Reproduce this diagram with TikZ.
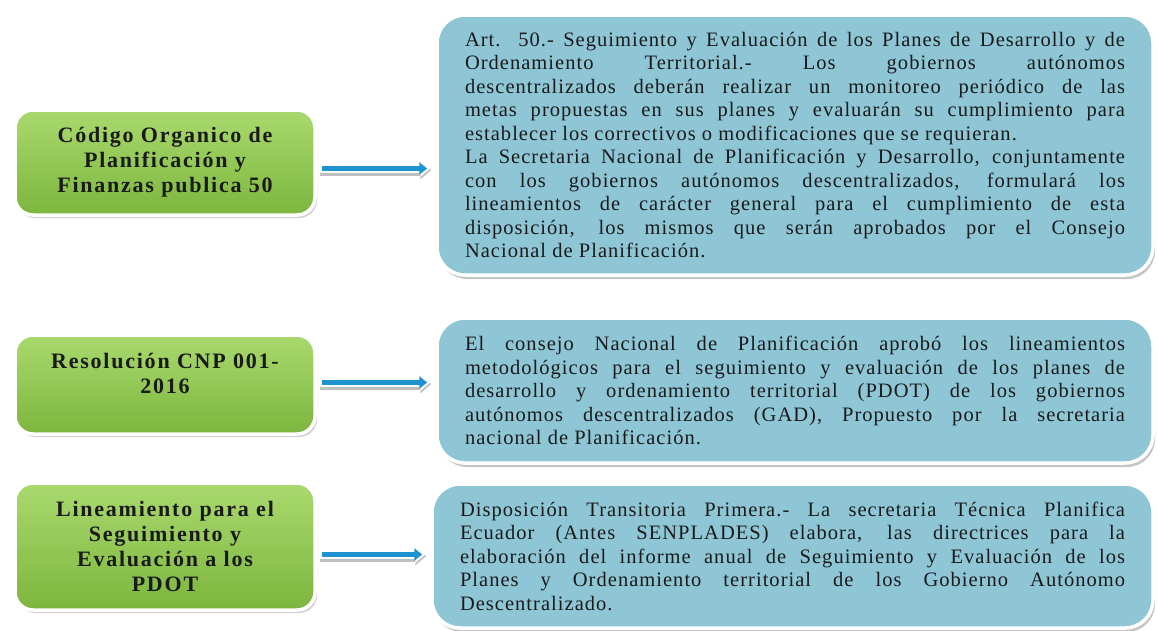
\documentclass[tikz,border=0pt]{standalone}
\usepackage{fontspec}
\setmainfont{Liberation Serif}
\usetikzlibrary{arrows.meta, positioning, shadows}
\definecolor{tagGreenTop}{HTML}{A9D96E}
\definecolor{tagGreenBot}{HTML}{7DB63E}
\definecolor{noteBlue}{HTML}{8EC6D6}
\definecolor{linkBlue}{HTML}{1E93D0}
\definecolor{noteText}{HTML}{1A1A1A}

\begin{document}
\begin{tikzpicture}[x=1pt, y=-1pt,
    tag/.style={draw=white, line width=3.5pt, rounded corners=18pt, top color=tagGreenTop, bottom color=tagGreenBot,
      minimum width=300pt, text width=280pt, align=center, text=noteText,
      font=\fontsize{22}{25}\selectfont\bfseries\addfontfeature{LetterSpace=8},
      drop shadow={opacity=.35, shadow xshift=2pt, shadow yshift=-3pt}},
    note/.style={draw=white, line width=3.5pt, rounded corners=28pt, fill=noteBlue,
      minimum width=716pt, text width=660pt, align=justify, text=noteText,
      font=\fontsize{20.5}{23.5}\selectfont\addfontfeature{LetterSpace=5},
      drop shadow={opacity=.45, shadow xshift=2pt, shadow yshift=-4pt}},
    link/.style={line width=4.5pt, draw=linkBlue, -{Triangle[length=8pt, width=12pt]},
      shorten <=5pt, shorten >=8pt,
      preaction={draw=black!25, line width=11pt, -{Triangle[length=11pt, width=18pt]}, shorten <=3pt, shorten >=4pt,
        transform canvas={yshift=-1.5pt}},
      preaction={draw=white, line width=9pt, -{Triangle[length=10pt, width=16pt]}, shorten <=3pt, shorten >=5pt}}]
  \path[use as bounding box, fill=white] (0,0) rectangle (1158,630);

  % left column
  \node[tag, minimum height=105pt] (code) at (165,162.5) {Código Organico de\\ Planificación y\\ Finanzas publica 50};
  \node[tag, minimum height=99pt, text depth=47pt] (res) at (165,384.5) {Resolución CNP 001-\\ 2016};
  \node[tag, minimum height=127pt] (lin) at (165,546.5) {Lineamiento para el\\ Seguimiento y\\ Evaluación a los\\ PDOT};

  % right column
  \node[note, minimum height=260pt] (art) at (795,145) {Art. 50.- Seguimiento y Evaluación de los Planes de Desarrollo y de\linebreak
    Ordenamiento Territorial.- Los gobiernos autónomos\linebreak
    descentralizados deberán realizar un monitoreo periódico de las\linebreak
    metas propuestas en sus planes y evaluarán su cumplimiento para\linebreak
    establecer los correctivos o modificaciones que se requieran.\par
    La Secretaria Nacional de Planificación y Desarrollo, conjuntamente\linebreak
    con los gobiernos autónomos descentralizados, formulará los\linebreak
    lineamientos de carácter general para el cumplimiento de esta\linebreak
    disposición, los mismos que serán aprobados por el Consejo\linebreak
    Nacional de Planificación.};
  \node[note, minimum height=145pt] (cnp) at (795,390.5) {El consejo Nacional de Planificación aprobó los lineamientos\linebreak
    metodológicos para el seguimiento y evaluación de los planes de\linebreak
    desarrollo y ordenamiento territorial (PDOT) de los gobiernos\linebreak
    autónomos descentralizados (GAD), Propuesto por la secretaria\linebreak
    nacional de Planificación.};
  \node[note, minimum height=144pt, minimum width=721pt, text width=665pt] (disp) at (792.5,556) {Disposición Transitoria Primera.- La secretaria Técnica Planifica\linebreak
    Ecuador (Antes SENPLADES) elabora, las directrices para la\linebreak
    elaboración del informe anual de Seguimiento y Evaluación de los\linebreak
    Planes y Ordenamiento territorial de los Gobierno Autónomo\linebreak
    Descentralizado.};

  % arrows
  \draw[link] ([yshift=-6pt]code.east) -- ([yshift=-6pt]code.east -| art.west);
  \draw[link] ([yshift=2pt]res.east) -- ([yshift=2pt]res.east -| cnp.west);
  \draw[link] ([yshift=-8pt]lin.east) -- ([yshift=-8pt]lin.east -| disp.west);
\end{tikzpicture}
\end{document}
